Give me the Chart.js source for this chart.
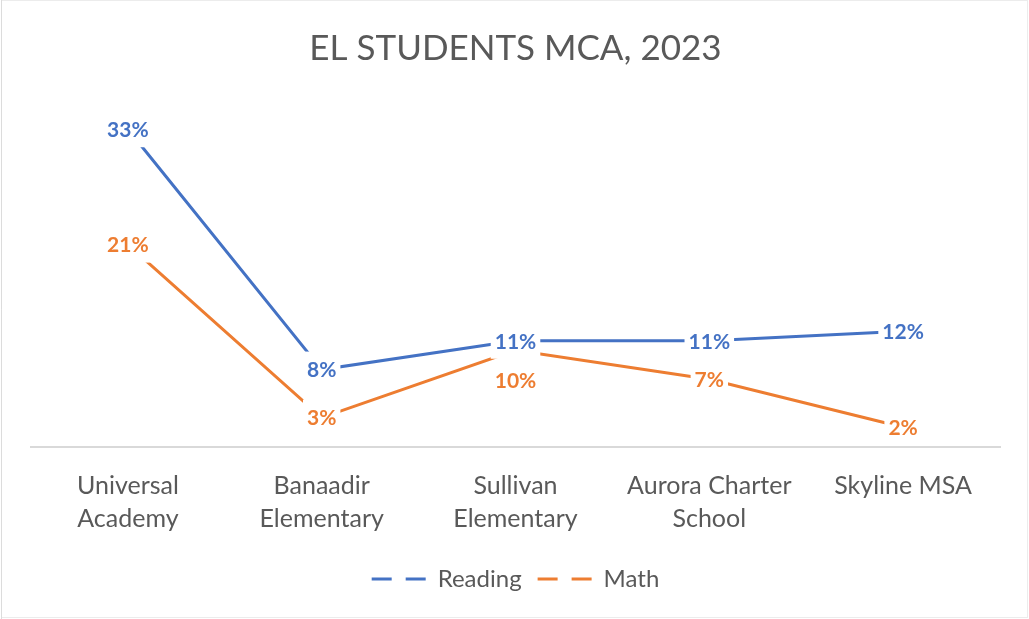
<!DOCTYPE html>
<html>
<head>
<meta charset="utf-8">
<script src="https://cdn.jsdelivr.net/npm/chart.js@4.4.1/dist/chart.umd.min.js"></script>
<style>
  html, body { margin: 0; padding: 0; background: #fff; }
  #wrap { width: 1029px; height: 619px; }
</style>
</head>
<body>
<div id="wrap"><canvas id="myChart" width="1029" height="619"></canvas></div>
<script>
const schools = [['Universal', 'Academy'], ['Banaadir', 'Elementary'], ['Sullivan', 'Elementary'], ['Aurora Charter', 'School'], 'Skyline MSA'];
const reading = [33, 8, 11, 11, 12];
const math = [21, 3, 10, 7, 2];

const FONT = 'Lato, "Open Sans", sans-serif';
const GREY = '#595959';

// white page with the faint frame of the original picture
const background = {
  id: 'background',
  beforeDraw(chart) {
    const ctx = chart.ctx;
    ctx.save();
    ctx.fillStyle = '#fff';
    ctx.fillRect(0, 0, chart.width, chart.height);
    ctx.strokeStyle = '#ececec';
    ctx.lineWidth = 1;
    ctx.strokeRect(1.5, 0.5, chart.width - 3, chart.height - 2);
    ctx.strokeStyle = '#dcdcdc';
    ctx.beginPath();
    ctx.moveTo(1.5, 0);
    ctx.lineTo(1.5, chart.height);
    ctx.stroke();
    ctx.restore();
  }
};

// value labels sit on the points in a white box (Excel "center" style),
// a label that would hit an earlier one is pushed below its point
const pointLabels = {
  id: 'pointLabels',
  afterDatasetsDraw(chart) {
    const ctx = chart.ctx;
    const placed = [];
    ctx.save();
    ctx.font = 'bold 21px ' + FONT;
    ctx.textAlign = 'center';
    ctx.textBaseline = 'middle';
    chart.data.datasets.forEach((ds, i) => {
      chart.getDatasetMeta(i).data.forEach((pt, j) => {
        const txt = ds.data[j] + '%';
        const w = ctx.measureText(txt).width + 8;
        const h = 36;
        let x = pt.x, y = pt.y;
        const hit = placed.some(b => Math.abs(b.x - x) < (b.w + w) / 2 && Math.abs(b.y - y) < (b.h + h) / 2);
        if (hit) y = pt.y + 30;
        placed.push({ x, y, w, h });
        ctx.fillStyle = '#fff';
        ctx.fillRect(x - w / 2, y - h / 2, w, h);
        ctx.fillStyle = ds.borderColor;
        ctx.fillText(txt, x, y + 1);
      });
    });
    ctx.restore();
  }
};

new Chart(document.getElementById('myChart'), {
  type: 'line',
  data: {
    labels: schools,
    datasets: [
      { label: 'Reading', data: reading, borderColor: '#4472C4', backgroundColor: '#4472C4', borderWidth: 3, pointRadius: 0, tension: 0 },
      { label: 'Math', data: math, borderColor: '#ED7D31', backgroundColor: '#ED7D31', borderWidth: 3, pointRadius: 0, tension: 0 }
    ]
  },
  options: {
    responsive: false,
    animation: false,
    layout: { padding: { top: 28, left: 31, right: 29, bottom: 18 } },
    plugins: {
      title: {
        display: true,
        text: 'EL STUDENTS MCA, 2023',
        color: GREY,
        font: { family: FONT, size: 35, weight: 'normal' },
        padding: { top: 0, bottom: 40 }
      },
      legend: {
        position: 'bottom',
        labels: {
          usePointStyle: true,
          pointStyle: 'line',
          pointStyleWidth: 54,
          color: GREY,
          font: { family: FONT, size: 24 },
          padding: 16,
          generateLabels(chart) {
            return Chart.defaults.plugins.legend.labels.generateLabels(chart)
              .map(l => Object.assign(l, { lineDash: [20, 14], pointStyle: 'line' }));
          }
        }
      },
      tooltip: { enabled: false }
    },
    scales: {
      x: {
        offset: true,
        grid: { display: false },
        border: { color: '#d9d9d9', width: 2 },
        ticks: { color: GREY, font: { family: FONT, size: 25, lineHeight: 1.33 }, padding: 15, maxRotation: 0, autoSkip: false }
      },
      y: { display: false, min: 0, max: 35 }
    }
  },
  plugins: [background, pointLabels]
});
</script>
</body>
</html>
